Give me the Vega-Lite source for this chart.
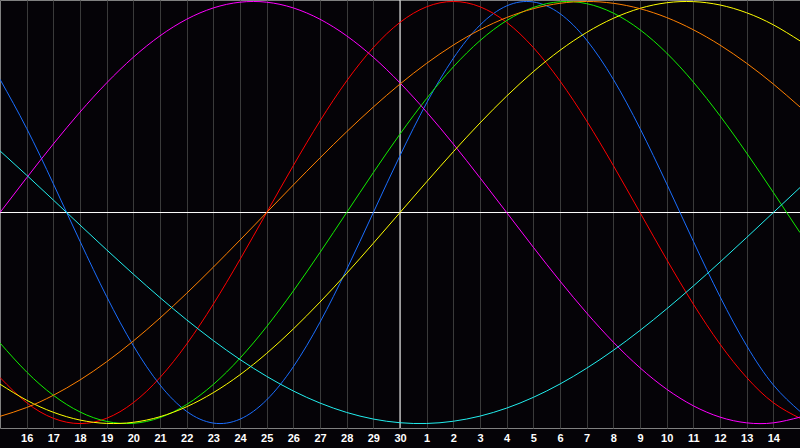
{
  "$schema": "https://vega.github.io/schema/vega-lite/v6.json",
  "width": 800,
  "height": 428,
  "autosize": "none",
  "padding": {"left": 0, "top": 0, "right": 0, "bottom": 20},
  "background": "#050307",
  "config": {
    "view": {"stroke": "#808080", "strokeWidth": 1},
    "axisX": {
      "grid": true,
      "gridColor": "#3a3a3a",
      "gridWidth": 1,
      "ticks": false,
      "domain": false,
      "labelColor": "#ffffff",
      "labelFont": "Liberation Sans",
      "labelFontSize": 11,
      "labelFontWeight": "bold",
      "labelPadding": 4,
      "labelFlush": false,
      "labelOverlap": false,
      "labelBound": false
    }
  },
  "datasets": {
    "cycles": [
      {"t": -15, "Physical": 0.6311, "Emotional": -0.7818, "Intellectual": -0.6182, "Intuitive": 0, "Aesthetic": -0.8133, "Awareness": -0.9659, "Spiritual": 0.2920},
      {"t": -14, "Physical": 0.3984, "Emotional": -0.9010, "Intellectual": -0.7557, "Intuitive": 0.1646, "Aesthetic": -0.8894, "Awareness": -0.9239, "Spiritual": 0.1769},
      {"t": -13, "Physical": 0.1362, "Emotional": -0.9749, "Intellectual": -0.8660, "Intuitive": 0.3247, "Aesthetic": -0.9465, "Awareness": -0.8660, "Spiritual": 0.0592},
      {"t": -12, "Physical": -0.1362, "Emotional": -1, "Intellectual": -0.9450, "Intuitive": 0.4759, "Aesthetic": -0.9834, "Awareness": -0.7934, "Spiritual": -0.0592},
      {"t": -11, "Physical": -0.3984, "Emotional": -0.9749, "Intellectual": -0.9898, "Intuitive": 0.6142, "Aesthetic": -0.9993, "Awareness": -0.7071, "Spiritual": -0.1769},
      {"t": -10, "Physical": -0.6311, "Emotional": -0.9010, "Intellectual": -0.9989, "Intuitive": 0.7357, "Aesthetic": -0.9940, "Awareness": -0.6088, "Spiritual": -0.2920},
      {"t": -9, "Physical": -0.8170, "Emotional": -0.7818, "Intellectual": -0.9718, "Intuitive": 0.8372, "Aesthetic": -0.9675, "Awareness": -0.5, "Spiritual": -0.4031},
      {"t": -8, "Physical": -0.9423, "Emotional": -0.6235, "Intellectual": -0.9096, "Intuitive": 0.9158, "Aesthetic": -0.9203, "Awareness": -0.3827, "Spiritual": -0.5085},
      {"t": -7, "Physical": -0.9977, "Emotional": -0.4339, "Intellectual": -0.8146, "Intuitive": 0.9694, "Aesthetic": -0.8535, "Awareness": -0.2588, "Spiritual": -0.6068},
      {"t": -6, "Physical": -0.9791, "Emotional": -0.2225, "Intellectual": -0.6901, "Intuitive": 0.9966, "Aesthetic": -0.7687, "Awareness": -0.1305, "Spiritual": -0.6965},
      {"t": -5, "Physical": -0.8879, "Emotional": 0, "Intellectual": -0.5406, "Intuitive": 0.9966, "Aesthetic": -0.6673, "Awareness": 0, "Spiritual": -0.7763},
      {"t": -4, "Physical": -0.7308, "Emotional": 0.2225, "Intellectual": -0.3717, "Intuitive": 0.9694, "Aesthetic": -0.5517, "Awareness": 0.1305, "Spiritual": -0.8456},
      {"t": -3, "Physical": -0.5196, "Emotional": 0.4339, "Intellectual": -0.1893, "Intuitive": 0.9158, "Aesthetic": -0.4244, "Awareness": 0.2588, "Spiritual": -0.9028},
      {"t": -2, "Physical": -0.2698, "Emotional": 0.6235, "Intellectual": 0, "Intuitive": 0.8372, "Aesthetic": -0.2881, "Awareness": 0.3827, "Spiritual": -0.9473},
      {"t": -1, "Physical": 0, "Emotional": 0.7818, "Intellectual": 0.1893, "Intuitive": 0.7357, "Aesthetic": -0.1456, "Awareness": 0.5, "Spiritual": -0.9786},
      {"t": 0, "Physical": 0.2698, "Emotional": 0.9010, "Intellectual": 0.3717, "Intuitive": 0.6142, "Aesthetic": 0, "Awareness": 0.6088, "Spiritual": -0.9960},
      {"t": 1, "Physical": 0.5196, "Emotional": 0.9749, "Intellectual": 0.5406, "Intuitive": 0.4759, "Aesthetic": 0.1456, "Awareness": 0.7071, "Spiritual": -0.9996},
      {"t": 2, "Physical": 0.7308, "Emotional": 1, "Intellectual": 0.6901, "Intuitive": 0.3247, "Aesthetic": 0.2881, "Awareness": 0.7934, "Spiritual": -0.9890},
      {"t": 3, "Physical": 0.8879, "Emotional": 0.9749, "Intellectual": 0.8146, "Intuitive": 0.1646, "Aesthetic": 0.4244, "Awareness": 0.8660, "Spiritual": -0.9646},
      {"t": 4, "Physical": 0.9791, "Emotional": 0.9010, "Intellectual": 0.9096, "Intuitive": 0, "Aesthetic": 0.5517, "Awareness": 0.9239, "Spiritual": -0.9267},
      {"t": 5, "Physical": 0.9977, "Emotional": 0.7818, "Intellectual": 0.9718, "Intuitive": -0.1646, "Aesthetic": 0.6673, "Awareness": 0.9659, "Spiritual": -0.8758},
      {"t": 6, "Physical": 0.9423, "Emotional": 0.6235, "Intellectual": 0.9989, "Intuitive": -0.3247, "Aesthetic": 0.7687, "Awareness": 0.9914, "Spiritual": -0.8125},
      {"t": 7, "Physical": 0.8170, "Emotional": 0.4339, "Intellectual": 0.9898, "Intuitive": -0.4759, "Aesthetic": 0.8535, "Awareness": 1, "Spiritual": -0.7378},
      {"t": 8, "Physical": 0.6311, "Emotional": 0.2225, "Intellectual": 0.9450, "Intuitive": -0.6142, "Aesthetic": 0.9203, "Awareness": 0.9914, "Spiritual": -0.6529},
      {"t": 9, "Physical": 0.3984, "Emotional": 0, "Intellectual": 0.8660, "Intuitive": -0.7357, "Aesthetic": 0.9675, "Awareness": 0.9659, "Spiritual": -0.5586},
      {"t": 10, "Physical": 0.1362, "Emotional": -0.2225, "Intellectual": 0.7557, "Intuitive": -0.8372, "Aesthetic": 0.9940, "Awareness": 0.9239, "Spiritual": -0.4566},
      {"t": 11, "Physical": -0.1362, "Emotional": -0.4339, "Intellectual": 0.6182, "Intuitive": -0.9158, "Aesthetic": 0.9993, "Awareness": 0.8660, "Spiritual": -0.3482},
      {"t": 12, "Physical": -0.3984, "Emotional": -0.6235, "Intellectual": 0.4582, "Intuitive": -0.9694, "Aesthetic": 0.9834, "Awareness": 0.7934, "Spiritual": -0.2349},
      {"t": 13, "Physical": -0.6311, "Emotional": -0.7818, "Intellectual": 0.2817, "Intuitive": -0.9966, "Aesthetic": 0.9465, "Awareness": 0.7071, "Spiritual": -0.1183},
      {"t": 14, "Physical": -0.8170, "Emotional": -0.9010, "Intellectual": 0.0951, "Intuitive": -0.9966, "Aesthetic": 0.8894, "Awareness": 0.6088, "Spiritual": 0},
      {"t": 15, "Physical": -0.9423, "Emotional": -0.9749, "Intellectual": -0.0951, "Intuitive": -0.9694, "Aesthetic": 0.8133, "Awareness": 0.5, "Spiritual": 0.1183}
    ],
    "refs": [{"t": 0, "value": 0}]
  },
  "layer": [
    {
      "data": {"name": "refs"},
      "mark": {"type": "rule", "color": "#ffffff", "strokeWidth": 1},
      "encoding": {"y": {"field": "value", "type": "quantitative", "axis": null}}
    },
    {
      "data": {"name": "refs"},
      "mark": {"type": "rule", "color": "#ffffff", "strokeWidth": 1},
      "encoding": {
        "x": {
          "field": "t",
          "type": "quantitative",
          "axis": {
            "values": [-14, -13, -12, -11, -10, -9, -8, -7, -6, -5, -4, -3, -2, -1, 0, 1, 2, 3, 4, 5, 6, 7, 8, 9, 10, 11, 12, 13, 14],
            "title": null,
            "labelOverlap": false,
            "labelExpr": "datum.value <= 0 ? datum.value + 30 : datum.value"
          }
        }
      }
    },
    {
      "data": {"name": "cycles"},
      "transform": [
        {"fold": ["Physical", "Emotional", "Intellectual", "Intuitive", "Aesthetic", "Awareness", "Spiritual"], "as": ["cycle", "value"]}
      ],
      "mark": {"type": "line", "interpolate": "natural", "strokeWidth": 1, "clip": true},
      "encoding": {
        "x": {
          "field": "t",
          "type": "quantitative",
          "scale": {"domain": [-15, 15], "nice": false, "zero": false},
          "axis": {
            "values": [-14, -13, -12, -11, -10, -9, -8, -7, -6, -5, -4, -3, -2, -1, 0, 1, 2, 3, 4, 5, 6, 7, 8, 9, 10, 11, 12, 13, 14],
            "title": null,
            "labelOverlap": false,
            "labelExpr": "datum.value <= 0 ? datum.value + 30 : datum.value"
          }
        },
        "y": {
          "field": "value",
          "type": "quantitative",
          "scale": {"domain": [-1.021, 1.007], "nice": false, "zero": false},
          "axis": null
        },
        "color": {
          "field": "cycle",
          "type": "nominal",
          "scale": {
            "domain": ["Physical", "Emotional", "Intellectual", "Intuitive", "Aesthetic", "Awareness", "Spiritual"],
            "range": ["#1a6eff", "#ff0000", "#11ee00", "#ff00ff", "#ffff00", "#ff8000", "#22eeee"]
          },
          "legend": null
        }
      }
    }
  ]
}
